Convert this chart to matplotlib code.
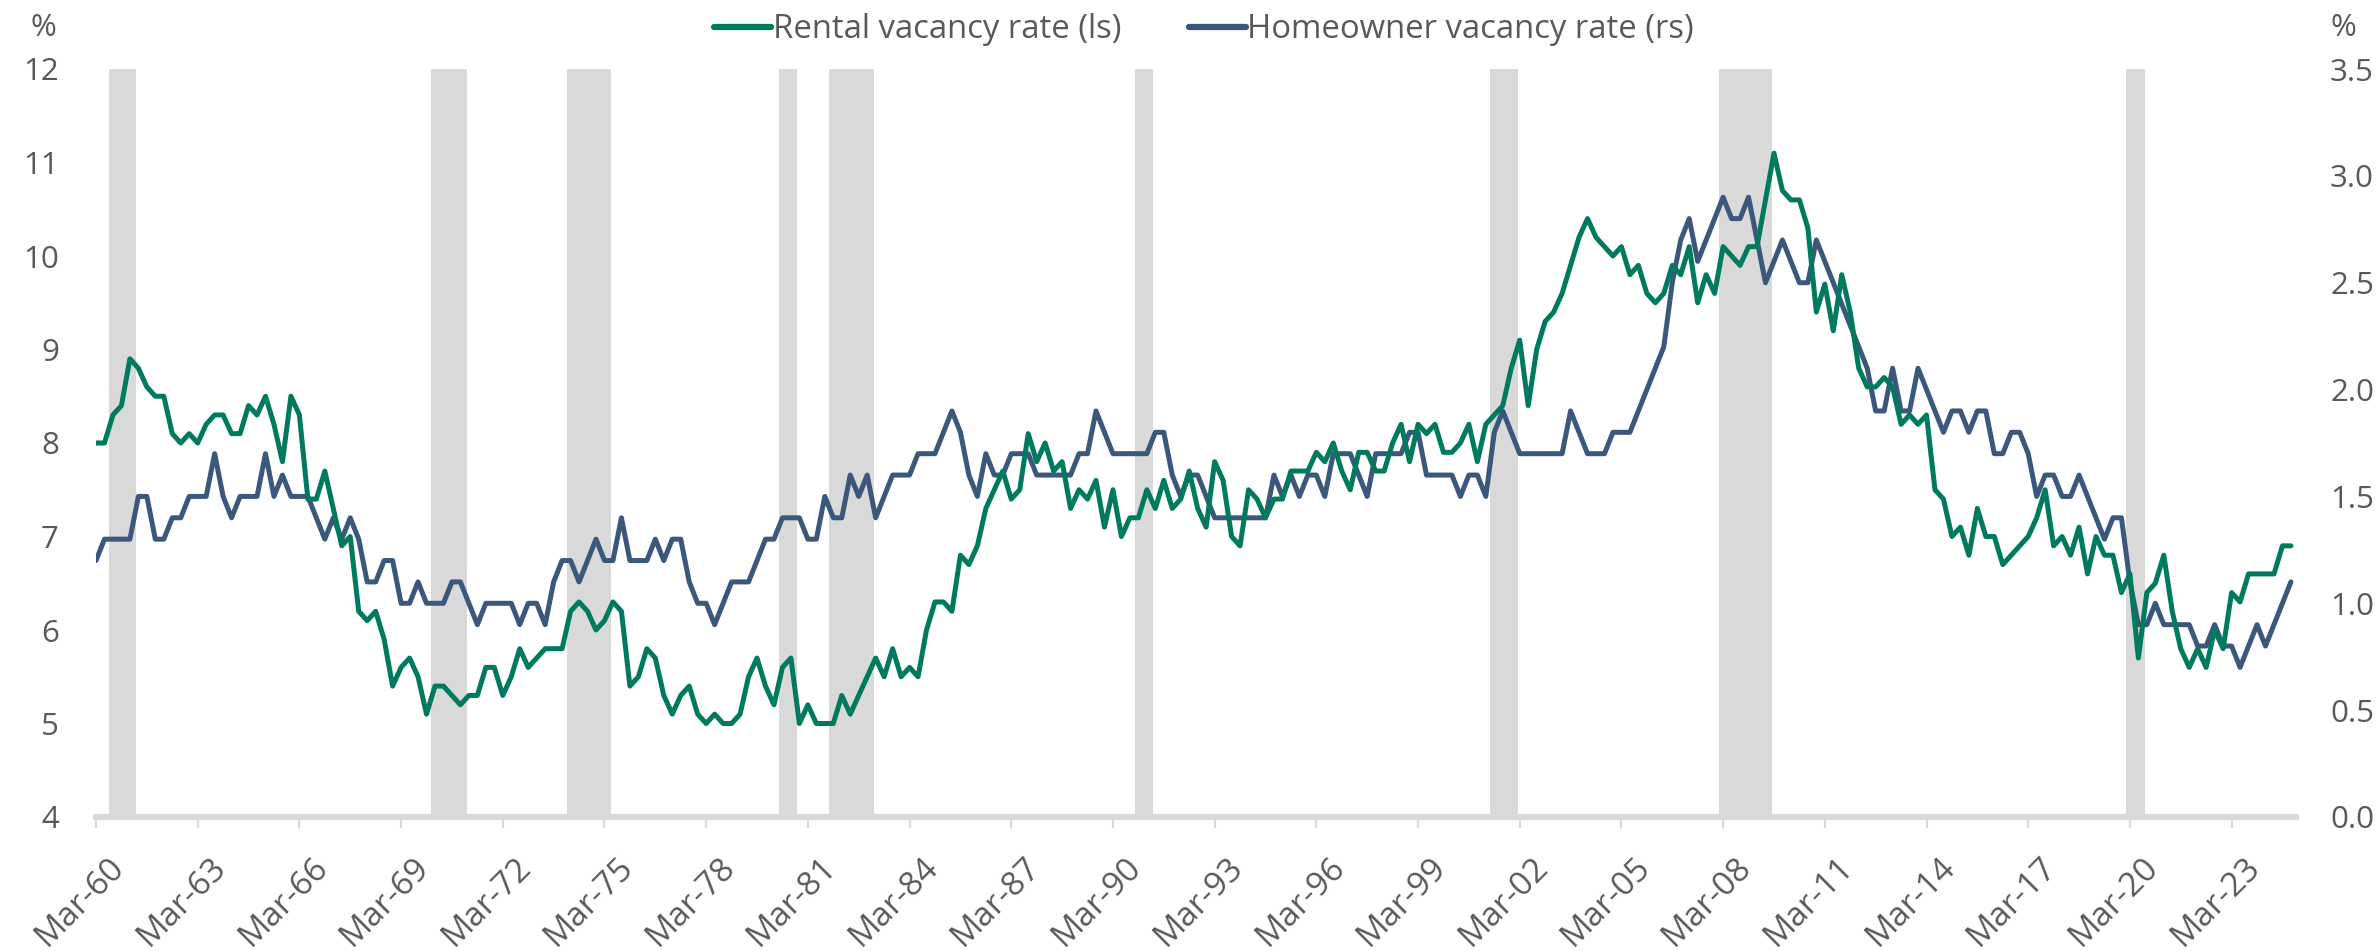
import matplotlib
matplotlib.use("Agg")
import matplotlib.pyplot as plt
import matplotlib.transforms as mtransforms
import numpy as np
import pandas as pd

# ---------------- data ----------------
start_quarter = "1960Q1"
rental = [
    8.0, 8.0, 8.3, 8.4, 8.9, 8.8, 8.6, 8.5, 8.5, 8.1,
    8.0, 8.1, 8.0, 8.2, 8.3, 8.3, 8.1, 8.1, 8.4, 8.3,
    8.5, 8.2, 7.8, 8.5, 8.3, 7.4, 7.4, 7.7, 7.3, 6.9,
    7.0, 6.2, 6.1, 6.2, 5.9, 5.4, 5.6, 5.7, 5.5, 5.1,
    5.4, 5.4, 5.3, 5.2, 5.3, 5.3, 5.6, 5.6, 5.3, 5.5,
    5.8, 5.6, 5.7, 5.8, 5.8, 5.8, 6.2, 6.3, 6.2, 6.0,
    6.1, 6.3, 6.2, 5.4, 5.5, 5.8, 5.7, 5.3, 5.1, 5.3,
    5.4, 5.1, 5.0, 5.1, 5.0, 5.0, 5.1, 5.5, 5.7, 5.4,
    5.2, 5.6, 5.7, 5.0, 5.2, 5.0, 5.0, 5.0, 5.3, 5.1,
    5.3, 5.5, 5.7, 5.5, 5.8, 5.5, 5.6, 5.5, 6.0, 6.3,
    6.3, 6.2, 6.8, 6.7, 6.9, 7.3, 7.5, 7.7, 7.4, 7.5,
    8.1, 7.8, 8.0, 7.7, 7.8, 7.3, 7.5, 7.4, 7.6, 7.1,
    7.5, 7.0, 7.2, 7.2, 7.5, 7.3, 7.6, 7.3, 7.4, 7.7,
    7.3, 7.1, 7.8, 7.6, 7.0, 6.9, 7.5, 7.4, 7.2, 7.4,
    7.4, 7.7, 7.7, 7.7, 7.9, 7.8, 8.0, 7.7, 7.5, 7.9,
    7.9, 7.7, 7.7, 8.0, 8.2, 7.8, 8.2, 8.1, 8.2, 7.9,
    7.9, 8.0, 8.2, 7.8, 8.2, 8.3, 8.4, 8.8, 9.1, 8.4,
    9.0, 9.3, 9.4, 9.6, 9.9, 10.2, 10.4, 10.2, 10.1, 10.0,
    10.1, 9.8, 9.9, 9.6, 9.5, 9.6, 9.9, 9.8, 10.1, 9.5,
    9.8, 9.6, 10.1, 10.0, 9.9, 10.1, 10.1, 10.6, 11.1, 10.7,
    10.6, 10.6, 10.3, 9.4, 9.7, 9.2, 9.8, 9.4, 8.8, 8.6,
    8.6, 8.7, 8.6, 8.2, 8.3, 8.2, 8.3, 7.5, 7.4, 7.0,
    7.1, 6.8, 7.3, 7.0, 7.0, 6.7, 6.8, 6.9, 7.0, 7.2,
    7.5, 6.9, 7.0, 6.8, 7.1, 6.6, 7.0, 6.8, 6.8, 6.4,
    6.6, 5.7, 6.4, 6.5, 6.8, 6.2, 5.8, 5.6, 5.8, 5.6,
    6.0, 5.8, 6.4, 6.3, 6.6, 6.6, 6.6, 6.6, 6.9, 6.9,
]
homeowner = [
    1.2, 1.3, 1.3, 1.3, 1.3, 1.5, 1.5, 1.3, 1.3, 1.4,
    1.4, 1.5, 1.5, 1.5, 1.7, 1.5, 1.4, 1.5, 1.5, 1.5,
    1.7, 1.5, 1.6, 1.5, 1.5, 1.5, 1.4, 1.3, 1.4, 1.3,
    1.4, 1.3, 1.1, 1.1, 1.2, 1.2, 1.0, 1.0, 1.1, 1.0,
    1.0, 1.0, 1.1, 1.1, 1.0, 0.9, 1.0, 1.0, 1.0, 1.0,
    0.9, 1.0, 1.0, 0.9, 1.1, 1.2, 1.2, 1.1, 1.2, 1.3,
    1.2, 1.2, 1.4, 1.2, 1.2, 1.2, 1.3, 1.2, 1.3, 1.3,
    1.1, 1.0, 1.0, 0.9, 1.0, 1.1, 1.1, 1.1, 1.2, 1.3,
    1.3, 1.4, 1.4, 1.4, 1.3, 1.3, 1.5, 1.4, 1.4, 1.6,
    1.5, 1.6, 1.4, 1.5, 1.6, 1.6, 1.6, 1.7, 1.7, 1.7,
    1.8, 1.9, 1.8, 1.6, 1.5, 1.7, 1.6, 1.6, 1.7, 1.7,
    1.7, 1.6, 1.6, 1.6, 1.6, 1.6, 1.7, 1.7, 1.9, 1.8,
    1.7, 1.7, 1.7, 1.7, 1.7, 1.8, 1.8, 1.6, 1.5, 1.6,
    1.6, 1.5, 1.4, 1.4, 1.4, 1.4, 1.4, 1.4, 1.4, 1.6,
    1.5, 1.6, 1.5, 1.6, 1.6, 1.5, 1.7, 1.7, 1.7, 1.6,
    1.5, 1.7, 1.7, 1.7, 1.7, 1.8, 1.8, 1.6, 1.6, 1.6,
    1.6, 1.5, 1.6, 1.6, 1.5, 1.8, 1.9, 1.8, 1.7, 1.7,
    1.7, 1.7, 1.7, 1.7, 1.9, 1.8, 1.7, 1.7, 1.7, 1.8,
    1.8, 1.8, 1.9, 2.0, 2.1, 2.2, 2.5, 2.7, 2.8, 2.6,
    2.7, 2.8, 2.9, 2.8, 2.8, 2.9, 2.7, 2.5, 2.6, 2.7,
    2.6, 2.5, 2.5, 2.7, 2.6, 2.5, 2.4, 2.3, 2.2, 2.1,
    1.9, 1.9, 2.1, 1.9, 1.9, 2.1, 2.0, 1.9, 1.8, 1.9,
    1.9, 1.8, 1.9, 1.9, 1.7, 1.7, 1.8, 1.8, 1.7, 1.5,
    1.6, 1.6, 1.5, 1.5, 1.6, 1.5, 1.4, 1.3, 1.4, 1.4,
    1.1, 0.9, 0.9, 1.0, 0.9, 0.9, 0.9, 0.9, 0.8, 0.8,
    0.9, 0.8, 0.8, 0.7, 0.8, 0.9, 0.8, 0.9, 1.0, 1.1,
]
# recession periods (first and last shaded quarter)
recessions = [
    ("1960Q2", "1961Q1"), ("1969Q4", "1970Q4"), ("1973Q4", "1975Q1"),
    ("1980Q1", "1980Q3"), ("1981Q3", "1982Q4"), ("1990Q3", "1991Q1"),
    ("2001Q1", "2001Q4"), ("2007Q4", "2009Q2"), ("2019Q4", "2020Q2"),
]
series_names = ["Rental vacancy rate (ls)", "Homeowner vacancy rate (rs)"]
left_ticks = [4, 5, 6, 7, 8, 9, 10, 11, 12]
right_ticks = [0.0, 0.5, 1.0, 1.5, 2.0, 2.5, 3.0, 3.5]

# ---------------- categories ----------------
quarters = pd.period_range(start=start_quarter, periods=len(rental), freq="Q")
cat_labels = [q.to_timestamp(how="end").strftime("%b-%y") for q in quarters]
qindex = {str(q): i for i, q in enumerate(quarters)}
x = np.arange(len(rental))

# ---------------- style ----------------
GREEN = "#007A5E"
BLUE = "#3A587C"
GREY_TXT = "#595959"
SHADE = "#D9D9D9"
FONT = "Open Sans"
FS_Y = 22.5
FS_X = 24
FS_LEG = 23.7

plt.rcParams["font.family"] = [FONT, "DejaVu Sans"]

fig = plt.figure(figsize=(23.8, 9.51), dpi=100)
ax = fig.add_axes([96 / 2380, 1 - 817 / 951, (2296 - 96) / 2380, (817 - 69) / 951])
ax2 = ax.twinx()

ax.set_xlim(0, 259.6)
ax.set_ylim(4, 12)
ax2.set_ylim(0, 3.5)

for s, e in recessions:
    ax.axvspan(qindex[s] + 0.55, qindex[e] + 0.75, ymin=0, ymax=1,
               color=SHADE, lw=0, zorder=0)

# homeowner series uses the right-hand scale (0-3.5); drawn on the left axes
# through a transform that maps the right scale onto it, so the green line can sit on top
ax.set_zorder(ax2.get_zorder() + 1)
ax.patch.set_visible(False)
right_to_left = mtransforms.Affine2D().scale(1, 8 / 3.5).translate(0, 4)
l2, = ax.plot(x, homeowner, color=BLUE, lw=3.6, solid_joinstyle="round",
              solid_capstyle="round", zorder=2, label=series_names[1],
              transform=right_to_left + ax.transData)
l1, = ax.plot(x, rental, color=GREEN, lw=3.6, solid_joinstyle="round",
              solid_capstyle="round", zorder=3, label=series_names[0])

# axes styling
for a in (ax, ax2):
    for side in ("top", "left", "right"):
        a.spines[side].set_visible(False)
ax2.spines["bottom"].set_visible(False)
ax.spines["bottom"].set_color(SHADE)
ax.spines["bottom"].set_linewidth(4.5)
ax.spines["bottom"].set_zorder(1)

ax.set_yticks(left_ticks)
ax.set_yticklabels([str(v) for v in left_ticks])
ax2.set_yticks(right_ticks)
ax2.set_yticklabels([f"{v:.1f}" for v in right_ticks])
ax.tick_params(axis="y", length=0, pad=37 * 0.72, labelsize=FS_Y, labelcolor=GREY_TXT)
ax2.tick_params(axis="y", length=0, pad=34 * 0.72, labelsize=FS_Y, labelcolor=GREY_TXT)

tick_pos = x[::12]
ax.set_xticks(tick_pos)
ax.set_xticklabels([cat_labels[i] for i in tick_pos], rotation=45, ha="right",
                   va="top", rotation_mode="anchor")
ax.tick_params(axis="x", length=8, width=1.5, color=SHADE, pad=16,
               labelsize=FS_X, labelcolor=GREY_TXT)
offset = mtransforms.ScaledTranslation(12 / 100, 0, fig.dpi_scale_trans)
for lab in ax.get_xticklabels():
    lab.set_transform(lab.get_transform() + offset)

fig.text(43 / 2380, 1 - 28 / 951, "%", ha="center", va="center", fontsize=FS_Y, color=GREY_TXT)
fig.text(2343 / 2380, 1 - 28 / 951, "%", ha="center", va="center", fontsize=FS_Y, color=GREY_TXT)

leg = fig.legend([l1, l2], series_names, loc="center", bbox_to_anchor=(1204 / 2380, 1 - 30 / 951),
                 ncol=2, frameon=False, fontsize=FS_LEG, handlelength=1.73, handletextpad=0.05,
                 columnspacing=2.05, borderpad=0, borderaxespad=0)
for t in leg.get_texts():
    t.set_color(GREY_TXT)
for h in leg.legend_handles:
    h.set_linewidth(4.5)

fig.savefig("out.png", dpi=100)
